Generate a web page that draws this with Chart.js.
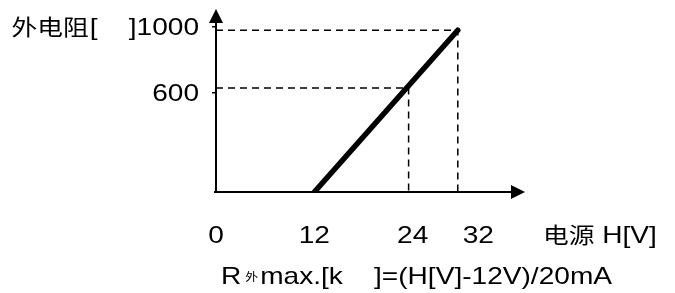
<!DOCTYPE html>
<html>
<head>
<meta charset="utf-8">
<script src="https://cdn.jsdelivr.net/npm/chart.js@4.4.1/dist/chart.umd.min.js"></script>
<style>
  html, body { margin: 0; padding: 0; background: #fff; }
  canvas { display: block; }
</style>
</head>
<body>
<canvas id="chart" width="675" height="293"></canvas>
<script>
// values (supply voltage H[V] against external resistance)
const xTicks = [0, 12, 24, 32];
const yTicks = [600, 1000];
const lineH = [12, 29.5];
const lineR = [0, 980];
const guideLowH = [0, 23.5, 23.5];
const guideLowR = [630, 630, 0];
const guideHighH = [0, 29.5, 29.5];
const guideHighR = [980, 980, 0];

const yTitleName = '外电阻';
const yTitleUnit = '[    ]';
const xTitleName = '电源';
const xTitleUnit = ' H[V]';
const formulaHead = 'R';
const formulaSub = '外';
const formulaTail = 'max.[k    ]=(H[V]-12V)/20mA';

// the reference text is a little wider than plain Arial
const SX = 1.17;
const FONT = '24px "Liberation Sans", Arial, sans-serif';
const CJK = '22px "Noto Sans CJK SC", sans-serif';

function toPoints(xs, ys) {
    return xs.map((x, i) => ({ x: x, y: ys[i] }));
}

function drawText(ctx, text, x, y, align) {
    const w = ctx.measureText(text).width * SX;
    let left = x;
    if (align === 'right') left = x - w;
    else if (align === 'center') left = x - w / 2;
    ctx.save();
    ctx.translate(left, y);
    ctx.scale(SX, 1);
    ctx.textAlign = 'left';
    ctx.fillText(text, 0, 0);
    ctx.restore();
    return w;
}

const axesPlugin = {
    id: 'axes',
    afterDatasetsDraw(chart) {
        const ctx = chart.ctx;
        const a = chart.chartArea;
        ctx.save();
        ctx.strokeStyle = '#000';
        ctx.fillStyle = '#000';
        ctx.lineWidth = 2;
        // y axis with arrow
        ctx.beginPath();
        ctx.moveTo(a.left, a.bottom);
        ctx.lineTo(a.left, a.top + 10);
        ctx.stroke();
        ctx.beginPath();
        ctx.moveTo(a.left, a.top);
        ctx.lineTo(a.left - 7, a.top + 14);
        ctx.lineTo(a.left + 7, a.top + 14);
        ctx.closePath();
        ctx.fill();
        // x axis with arrow
        ctx.beginPath();
        ctx.moveTo(a.left - 2, a.bottom);
        ctx.lineTo(a.right - 10, a.bottom);
        ctx.stroke();
        ctx.beginPath();
        ctx.moveTo(a.right, a.bottom);
        ctx.lineTo(a.right - 14, a.bottom - 7);
        ctx.lineTo(a.right - 14, a.bottom + 7);
        ctx.closePath();
        ctx.fill();
        ctx.restore();
    },
    afterDraw(chart) {
        const ctx = chart.ctx;
        const a = chart.chartArea;
        const xs = chart.scales.x;
        const ys = chart.scales.y;
        ctx.save();
        ctx.fillStyle = '#000';
        ctx.textBaseline = 'alphabetic';

        // y tick labels, the top one carries the axis name in front of it
        ys.ticks.forEach((t) => {
            const py = ys.getPixelForValue(t.value) + 8;
            ctx.font = FONT;
            let x = a.left - 17;
            x -= drawText(ctx, String(t.value), x, py, 'right');
            if (t.value === 1000) {
                x -= drawText(ctx, yTitleUnit, x, py, 'right');
                ctx.font = CJK;
                drawText(ctx, yTitleName, x - 1, py, 'right');
            }
        });

        // x tick labels
        const rowY = a.bottom + 51;
        ctx.font = FONT;
        xs.ticks.forEach((t) => {
            drawText(ctx, String(t.value), xs.getPixelForValue(t.value), rowY, 'center');
        });

        // x axis name on the same row
        ctx.font = CJK;
        const wName = drawText(ctx, xTitleName, a.right + 18, rowY, 'left');
        ctx.font = FONT;
        drawText(ctx, xTitleUnit, a.right + 18 + wName, rowY, 'left');

        // formula under the chart
        const base = a.bottom + 92;
        let x = a.left + 5;
        x += drawText(ctx, formulaHead, x, base, 'left') + 4;
        ctx.font = '11px "Noto Sans CJK SC", sans-serif';
        x += drawText(ctx, formulaSub, x, base - 3, 'left') + 2;
        ctx.font = FONT;
        drawText(ctx, formulaTail, x, base, 'left');
        ctx.restore();
    }
};

const guideStyle = {
    borderColor: '#000',
    borderWidth: 1.5,
    borderDash: [7, 5],
    pointRadius: 0,
    fill: false,
    tension: 0
};

new Chart(document.getElementById('chart'), {
    type: 'line',
    data: {
        datasets: [
            Object.assign({ label: 'low', data: toPoints(guideLowH, guideLowR) }, guideStyle),
            Object.assign({ label: 'high', data: toPoints(guideHighH, guideHighR) }, guideStyle),
            {
                label: 'R',
                data: toPoints(lineH, lineR),
                borderColor: '#000',
                borderWidth: 5.5,
                borderCapStyle: 'round',
                pointRadius: 0,
                fill: false,
                tension: 0
            }
        ]
    },
    options: {
        responsive: false,
        animation: false,
        events: [],
        layout: { padding: { left: 0, right: 150, top: 9, bottom: 0 } },
        plugins: {
            legend: { display: false },
            tooltip: { enabled: false }
        },
        scales: {
            x: {
                type: 'linear',
                min: 0,
                max: 37.7,
                afterFit: (s) => { s.height = 101; s.paddingLeft = 0; s.paddingRight = 0; },
                afterBuildTicks: (s) => { s.ticks = xTicks.map(v => ({ value: v })); },
                grid: { display: false },
                border: { display: false },
                ticks: { display: false }
            },
            y: {
                type: 'linear',
                min: 0,
                max: 1109,
                afterFit: (s) => { s.width = 216; s.paddingTop = 0; s.paddingBottom = 0; },
                afterBuildTicks: (s) => { s.ticks = yTicks.map(v => ({ value: v })); },
                grid: {
                    drawOnChartArea: false,
                    drawTicks: true,
                    tickLength: 4,
                    color: '#000',
                    lineWidth: 1.5
                },
                border: { display: false },
                ticks: { display: false }
            }
        }
    },
    plugins: [axesPlugin]
});
</script>
</body>
</html>
